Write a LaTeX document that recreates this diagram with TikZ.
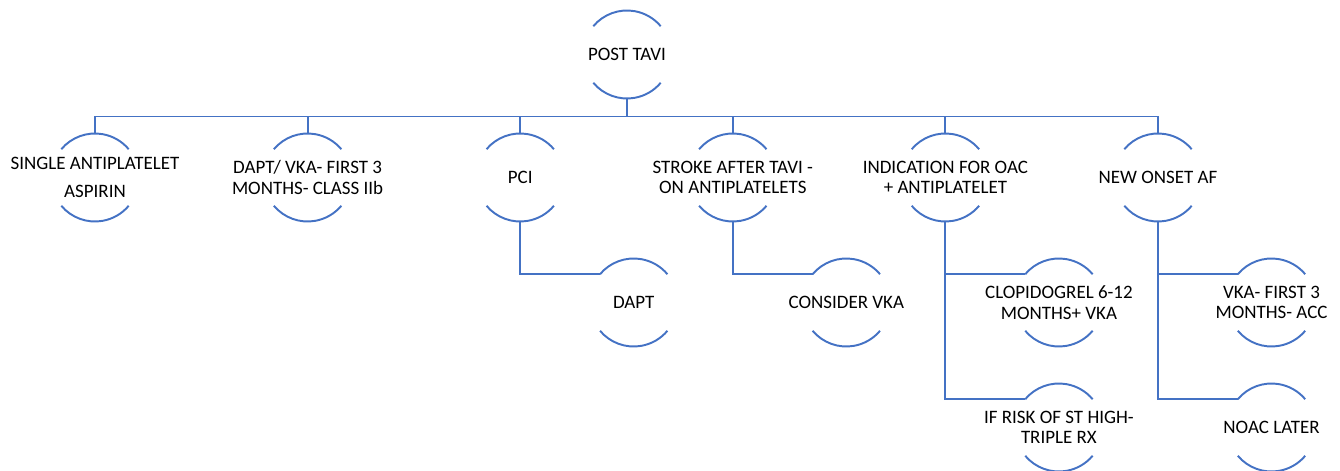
\documentclass[tikz,border=0pt]{standalone}
\usepackage{fontspec}
\setmainfont{Carlito}
\usetikzlibrary{positioning}
\definecolor{treeblue}{RGB}{68,114,196}
\tikzset{
        every node/.style={align=center, text=black,
                font=\fontsize{10.8}{11.6}\selectfont},
        link/.style={draw=treeblue, line width=1.1pt}, % blue connectors and arcs
        on grid
        }
\newcommand{\rad}{0.88cm}
% the two arcs above and below a node
\newcommand{\bowls}[1]{%
  \draw[link] ([shift={(140:\rad)}]#1.center) arc[start angle=140, end angle=40, radius=\rad];
  \draw[link] ([shift={(220:\rad)}]#1.center) arc[start angle=220, end angle=320, radius=\rad];}

\begin{document}
\begin{tikzpicture}
        \useasboundingbox (0,0) rectangle (26.8,-9.42);
        \node (root) at (12.54,-1.09) {POST TAVI};
        \node (single) at (1.90,-3.55) {SINGLE ANTIPLATELET\\[0.16cm]ASPIRIN};
        \node[right=4.252cm of single] (daptvka) {DAPT/ VKA- FIRST 3\\MONTHS- CLASS IIb};
        \node[right=4.252cm of daptvka] (pci) {PCI};
        \node[right=4.252cm of pci] (stroke) {STROKE AFTER TAVI -\\ON ANTIPLATELETS};
        \node[right=4.252cm of stroke] (oac) {INDICATION FOR OAC\\+ ANTIPLATELET};
        \node[right=4.252cm of oac] (newaf) {NEW ONSET AF};
        % second row
        \node[below right=2.5cm and 2.27cm of pci] (dapt) {DAPT};
        \node[below right=2.5cm and 2.27cm of stroke] (vka) {CONSIDER VKA};
        \node[below right=2.5cm and 2.27cm of oac] (clopi) {CLOPIDOGREL 6-12\\MONTHS+ VKA};
        \node[below=2.5cm of clopi] (triple) {IF RISK OF ST HIGH-\\TRIPLE RX};
        \node[below right=2.5cm and 2.27cm of newaf] (vkaacc) {VKA- FIRST 3\\MONTHS- ACC};
        \node[below=2.5cm of vkaacc] (noac) {NOAC LATER};

        \foreach \n in {root,single,daptvka,pci,stroke,oac,newaf,dapt,vka,clopi,triple,vkaacc,noac}
          {\bowls{\n}}

        \foreach \kid in {single,daptvka,pci,stroke,oac,newaf}
          \draw[link] ([yshift=-\rad]root.center) -- ++(0,-0.36) -| ([yshift=\rad]\kid.center);
        \draw[link] ([yshift=-\rad]pci.center) |- ([shift={(140:\rad)}]dapt.center);
        \draw[link] ([yshift=-\rad]stroke.center) |- ([shift={(140:\rad)}]vka.center);
        \draw[link] ([yshift=-\rad]oac.center) |- ([shift={(140:\rad)}]clopi.center);
        \draw[link] ([yshift=-\rad]oac.center) |- ([shift={(140:\rad)}]triple.center);
        \draw[link] ([yshift=-\rad]newaf.center) |- ([shift={(140:\rad)}]vkaacc.center);
        \draw[link] ([yshift=-\rad]newaf.center) |- ([shift={(140:\rad)}]noac.center);
\end{tikzpicture}
\end{document}
